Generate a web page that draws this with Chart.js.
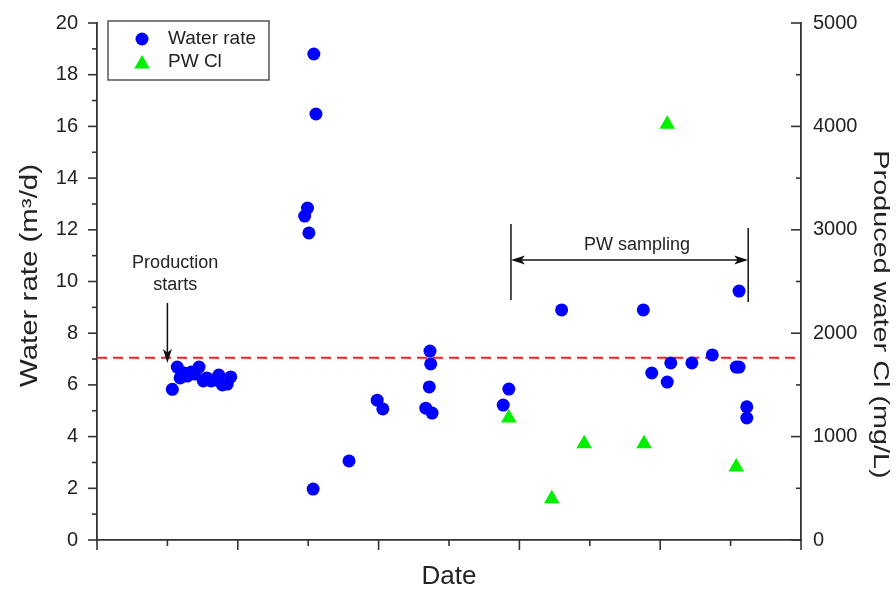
<!DOCTYPE html>
<html>
<head>
<meta charset="utf-8">
<script src="https://cdn.jsdelivr.net/npm/chart.js@4/dist/chart.umd.min.js"></script>
<style>
  html, body { margin: 0; padding: 0; background: #fff; }
  #wrap { width: 896px; height: 590px; }
</style>
</head>
<body>
<div id="wrap"><canvas id="chart" width="896" height="590"></canvas></div>
<script>
// x is a position along the (unlabelled) date axis, 0..10
const rateDates = [1.07, 1.14, 1.18, 1.24, 1.28, 1.34, 1.39, 1.45, 1.51, 1.56, 1.62, 1.68, 1.73, 1.78, 1.85, 1.90,
  2.95, 2.99, 3.01, 3.07, 3.08, 3.11, 3.58, 3.98, 4.06, 4.67, 4.72, 4.73, 4.74, 4.76,
  5.77, 5.85, 6.60, 7.76, 7.88, 8.10, 8.15, 8.45, 8.74, 9.08, 9.12, 9.12, 9.23, 9.23];
const rateValues = [5.83, 6.69, 6.27, 6.46, 6.34, 6.50, 6.42, 6.69, 6.15, 6.27, 6.15, 6.19, 6.38, 6.00, 6.03, 6.31,
  12.53, 12.84, 11.88, 1.97, 18.8, 16.48, 3.06, 5.41, 5.07, 5.10, 5.92, 7.31, 6.81, 4.91,
  5.22, 5.84, 8.90, 8.90, 6.46, 6.11, 6.85, 6.85, 7.16, 6.69, 6.69, 9.63, 5.15, 4.72];

const clDates = [5.85, 6.46, 6.92, 7.77, 8.10, 9.08];
const clValues = [1180, 400, 930, 930, 4020, 705];

const refLevel = 7.05;

const xRange = [0, 10];
const rateRange = [0, 20];
const clRange = [0, 5000];

const rateTitle = "Water rate (m³/d)";
const clTitle = "Produced water Cl (mg/L)";

// annotation anchors (data coordinates)
const startArrow = { x: 1.0, yFrom: 9.17, yTo: 6.85 };
const startText = { x: 1.11, lines: [["Production", 10.7], ["starts", 9.85]] };
const samplingFrom = { x: 5.88, yTop: 12.22, yBottom: 9.28 };
const samplingTo = { x: 9.25, yTop: 12.07, yBottom: 9.21 };
const samplingArrowY = 10.83;
const samplingText = { x: 7.67, y: 11.41, text: "PW sampling" };

const fontFamily = "'Liberation Sans', Arial, sans-serif";
const axisColor = "#333";
const textColor = "#222";

const ratePoints = rateDates.map((x, i) => ({ x, y: rateValues[i] }));
const clPoints = clDates.map((x, i) => ({ x, y: clValues[i] }));

function line(ctx, x1, y1, x2, y2) {
  ctx.beginPath();
  ctx.moveTo(x1, y1);
  ctx.lineTo(x2, y2);
  ctx.stroke();
}

function arrowHead(ctx, tipX, tipY, dirX, dirY, len, half) {
  const px = -dirY, py = dirX;
  ctx.beginPath();
  ctx.moveTo(tipX, tipY);
  ctx.lineTo(tipX - dirX * len + px * half, tipY - dirY * len + py * half);
  ctx.lineTo(tipX - dirX * len * 0.75, tipY - dirY * len * 0.75);
  ctx.lineTo(tipX - dirX * len - px * half, tipY - dirY * len - py * half);
  ctx.closePath();
  ctx.fill();
}

// rotated title, stretched along the text like the original figure
function verticalTitle(ctx, text, cx, cy, rot, size, stretch) {
  ctx.save();
  ctx.translate(cx, cy);
  ctx.rotate(rot);
  ctx.scale(stretch, 1);
  ctx.font = size + "px " + fontFamily;
  ctx.fillStyle = textColor;
  ctx.textAlign = "center";
  ctx.textBaseline = "middle";
  ctx.fillText(text, 0, 0);
  ctx.restore();
}

// small major/minor tick marks on the three axes, plus the side titles
const axisDecor = {
  id: "axisDecor",
  afterDraw(chart) {
    const { ctx, chartArea: a, scales } = chart;
    ctx.save();
    ctx.strokeStyle = axisColor;
    ctx.lineWidth = 1.6;
    for (let v = xRange[0]; v <= xRange[1]; v += 1) {
      const px = scales.x.getPixelForValue(v);
      line(ctx, px, a.bottom, px, a.bottom + (v % 2 === 0 ? 10 : 6));
    }
    for (let v = rateRange[0]; v <= rateRange[1]; v += 1) {
      const py = scales.y.getPixelForValue(v);
      line(ctx, a.left - (v % 2 === 0 ? 9 : 5), py, a.left, py);
    }
    for (let v = clRange[0]; v <= clRange[1]; v += 500) {
      const py = scales.y2.getPixelForValue(v);
      line(ctx, a.right - (v % 1000 === 0 ? 10 : 5), py, a.right, py);
    }
    ctx.restore();

    const mid = (a.top + a.bottom) / 2;
    verticalTitle(ctx, rateTitle, 31, mid - 6, -Math.PI / 2, 23, 1.28);
    verticalTitle(ctx, clTitle, 880, mid + 33, Math.PI / 2, 22, 1.31);
  }
};

const notes = {
  id: "notes",
  afterDatasetsDraw(chart) {
    const { ctx, scales } = chart;
    const X = v => scales.x.getPixelForValue(v);
    const Y = v => scales.y.getPixelForValue(v);
    ctx.save();
    ctx.strokeStyle = "#111";
    ctx.fillStyle = "#111";
    ctx.lineWidth = 1.5;

    // production starts
    const ax = X(startArrow.x), ay1 = Y(startArrow.yFrom), ay2 = Y(startArrow.yTo);
    line(ctx, ax, ay1, ax, ay2 - 10);
    arrowHead(ctx, ax, ay2, 0, 1, 14, 4.5);

    ctx.font = "18px " + fontFamily;
    ctx.fillStyle = textColor;
    ctx.textAlign = "center";
    ctx.textBaseline = "middle";
    startText.lines.forEach(([t, y]) => ctx.fillText(t, X(startText.x), Y(y)));

    // PW sampling
    ctx.fillStyle = "#111";
    const lx = X(samplingFrom.x), rx = X(samplingTo.x), hy = Y(samplingArrowY);
    line(ctx, lx, Y(samplingFrom.yTop), lx, Y(samplingFrom.yBottom));
    line(ctx, rx, Y(samplingTo.yTop), rx, Y(samplingTo.yBottom));
    line(ctx, lx + 8, hy, rx - 8, hy);
    arrowHead(ctx, lx, hy, -1, 0, 14, 4.5);
    arrowHead(ctx, rx, hy, 1, 0, 14, 4.5);
    ctx.fillStyle = textColor;
    ctx.fillText(samplingText.text, X(samplingText.x), Y(samplingText.y));
    ctx.restore();
  }
};

// legend box in the upper-left corner of the plot
const boxLegend = {
  id: "boxLegend",
  afterDraw(chart) {
    const { ctx, chartArea: a } = chart;
    const left = a.left + 11, top = a.top - 2, w = 161, h = 59;
    ctx.save();
    ctx.fillStyle = "#fff";
    ctx.fillRect(left, top, w, h);
    ctx.strokeStyle = "#555";
    ctx.lineWidth = 1.5;
    ctx.strokeRect(left, top, w, h);
    ctx.font = "19px " + fontFamily;
    ctx.textBaseline = "middle";
    ctx.textAlign = "left";
    chart.data.datasets.slice(0, 2).forEach((ds, i) => {
      const cy = top + 18 + i * 23;
      ctx.fillStyle = ds.backgroundColor;
      ctx.strokeStyle = ds.backgroundColor;
      Chart.helpers.drawPoint(ctx, { pointStyle: ds.pointStyle, radius: ds.pointRadius, borderWidth: 0 }, left + 34, cy + (i === 1 ? 2 : 0));
      ctx.fillStyle = textColor;
      ctx.fillText(ds.label, left + 60, cy);
    });
    ctx.restore();
  }
};

new Chart(document.getElementById("chart"), {
  type: "scatter",
  data: {
    datasets: [
      {
        label: "Water rate",
        data: ratePoints,
        yAxisID: "y",
        pointStyle: "circle",
        pointRadius: 6.5,
        backgroundColor: "#0000ff",
        borderColor: "#0000ff",
        borderWidth: 0,
      },
      {
        label: "PW Cl",
        data: clPoints,
        yAxisID: "y2",
        pointStyle: "triangle",
        pointRadius: 9,
        backgroundColor: "#00f000",
        borderColor: "#00f000",
        borderWidth: 0,
      },
      {
        type: "line",
        label: "reference",
        data: [{ x: xRange[0], y: refLevel }, { x: xRange[1], y: refLevel }],
        yAxisID: "y",
        borderColor: "#ff2020",
        borderWidth: 1.8,
        borderDash: [10, 6],
        pointRadius: 0,
      },
    ],
  },
  options: {
    responsive: false,
    animation: false,
    layout: { padding: { top: 23, left: 0, right: 0, bottom: 0 } },
    plugins: { legend: { display: false }, tooltip: { enabled: false } },
    scales: {
      x: {
        type: "linear",
        min: xRange[0],
        max: xRange[1],
        grid: { display: false },
        ticks: { display: false },
        border: { color: axisColor, width: 1.8 },
        title: { display: true, text: "Date", color: textColor, font: { family: fontFamily, size: 26, lineHeight: 1 }, padding: 0 },
        afterFit: (s) => { s.height = 50; },
      },
      y: {
        position: "left",
        min: rateRange[0],
        max: rateRange[1],
        grid: { display: false },
        border: { color: axisColor, width: 1.8 },
        ticks: { stepSize: 2, padding: 11, color: textColor, font: { family: fontFamily, size: 20 } },
        afterFit: (s) => { s.width = 97; },
      },
      y2: {
        position: "right",
        min: clRange[0],
        max: clRange[1],
        grid: { display: false },
        border: { color: axisColor, width: 1.8 },
        ticks: { stepSize: 1000, padding: 4, color: textColor, font: { family: fontFamily, size: 20 }, callback: (v) => String(v) },
        afterFit: (s) => { s.width = 95; },
      },
    },
  },
  plugins: [axisDecor, notes, boxLegend],
});
</script>
</body>
</html>
